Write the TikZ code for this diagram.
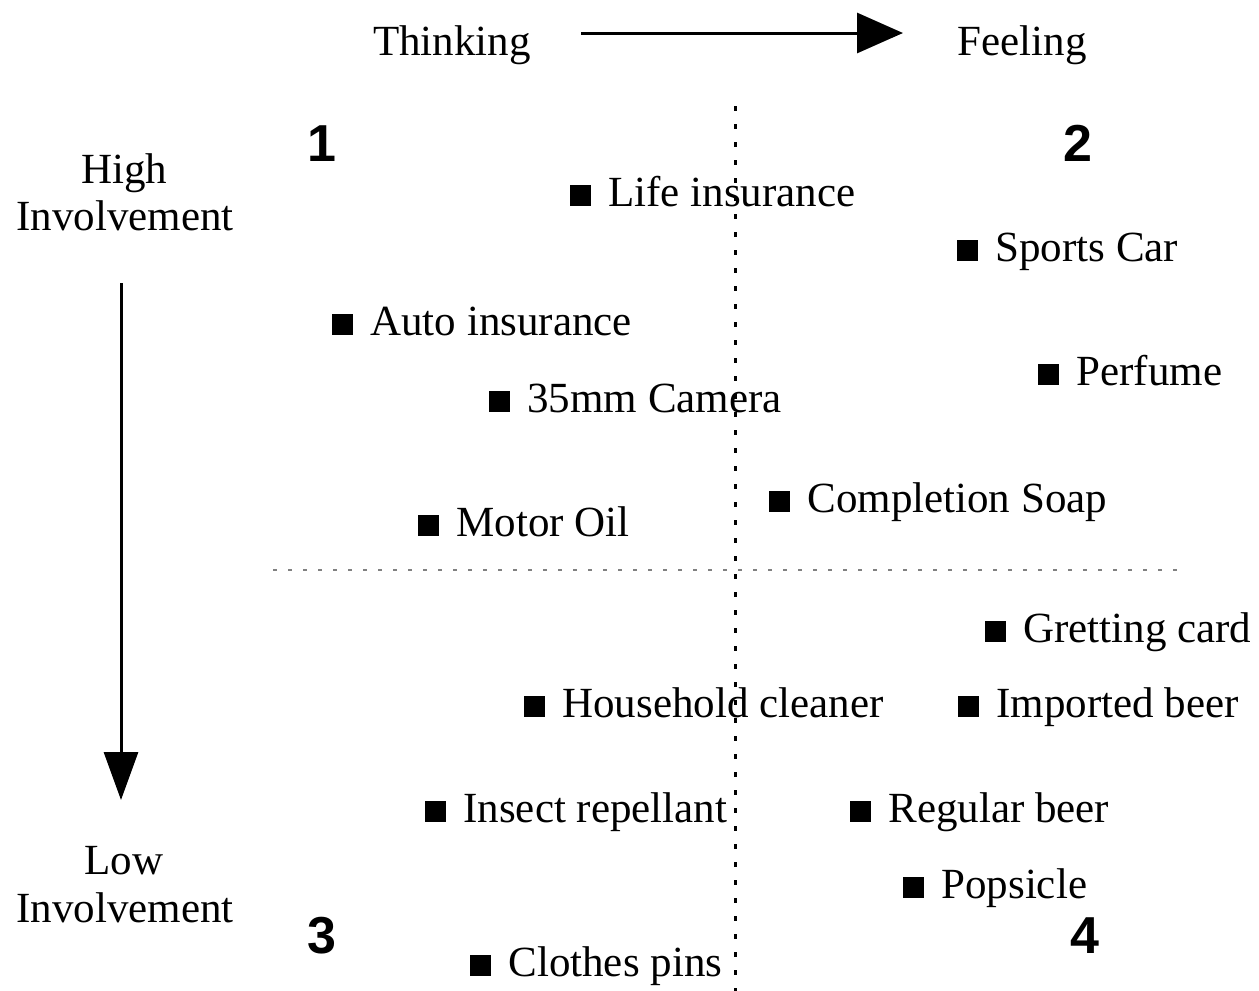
\documentclass[tikz,border=0pt]{standalone}
\usepackage{fontspec}
\setmainfont{Liberation Serif}
\newfontfamily\numfont{Liberation Sans}
\usetikzlibrary{arrows.meta}
\begin{document}
\begin{tikzpicture}[x=0.5pt,y=-0.5pt,
  txt/.style={inner sep=0pt,anchor=base,font=\fontsize{21.5}{25}\selectfont},
  item/.style={inner sep=0pt,anchor=base west,font=\fontsize{21.5}{25}\selectfont},
  quad/.style={inner sep=0pt,anchor=base,font=\numfont\bfseries\fontsize{26}{30}\selectfont},
  axis/.style={line width=1.5pt},
  vdots/.style={line width=1.5pt,dash pattern=on 2.5pt off 6.5pt},
  hdots/.style={line width=1pt,gray,dash pattern=on 2pt off 5.5pt}]
\useasboundingbox (0,0) rectangle (1259,991);
\newcommand{\sq}{\rule{10.5pt}{10.5pt}\hspace{8.5pt}}
% headings
\node[txt] (think) at (452,55) {Thinking};
\node[txt] (feel) at (1022,55) {Feeling};
\node[txt] (high) at (124,183) {High};
\node[txt] (hinv) at (125,230) {Involvement};
\node[txt] (low) at (124,874) {Low};
\node[txt] (linv) at (125,922) {Involvement};
% arrows
\coordinate (hs) at (581,33);
\coordinate (he) at (903,33);
\coordinate (vs) at (121,283);
\coordinate (ve) at (121,800);
\draw[axis,-{Triangle[length=23pt,width=20pt]}] (hs) -- (he);
\draw[axis,-{Triangle[length=24pt,width=17pt]}] (vs) -- (ve);
% dotted quadrant lines
\coordinate (vt) at (735,106);
\coordinate (vb) at (735,991);
\coordinate (hl) at (273,570);
\coordinate (hr) at (1182,570);
\draw[vdots] (vt) -- (vb);
\draw[hdots] (hl) -- (hr);
% quadrant numbers
\node[quad] (q1) at (322,161) {1};
\node[quad] (q2) at (1078,161) {2};
\node[quad] (q3) at (322,953) {3};
\node[quad] (q4) at (1085,953) {4};
% items
\node[item] (life) at (570,206) {\sq Life insurance};
\node[item] (sports) at (957,261) {\sq Sports Car};
\node[item] (auto) at (332,335) {\sq Auto insurance};
\node[item] (perf) at (1038,385) {\sq Perfume};
\node[item] (cam) at (489,412) {\sq 35mm Camera};
\node[item] (soap) at (769,512) {\sq Completion Soap};
\node[item] (oil) at (418,536) {\sq Motor Oil};
\node[item] (card) at (985,642) {\sq Gretting card};
\node[item] (clean) at (524,717) {\sq Household cleaner};
\node[item] (imp) at (958,717) {\sq Imported beer};
\node[item] (insect) at (425,822) {\sq Insect repellant};
\node[item] (reg) at (850,822) {\sq Regular beer};
\node[item] (pop) at (903,898) {\sq Popsicle};
\node[item] (pins) at (470,976) {\sq Clothes pins};
\end{tikzpicture}
\end{document}
